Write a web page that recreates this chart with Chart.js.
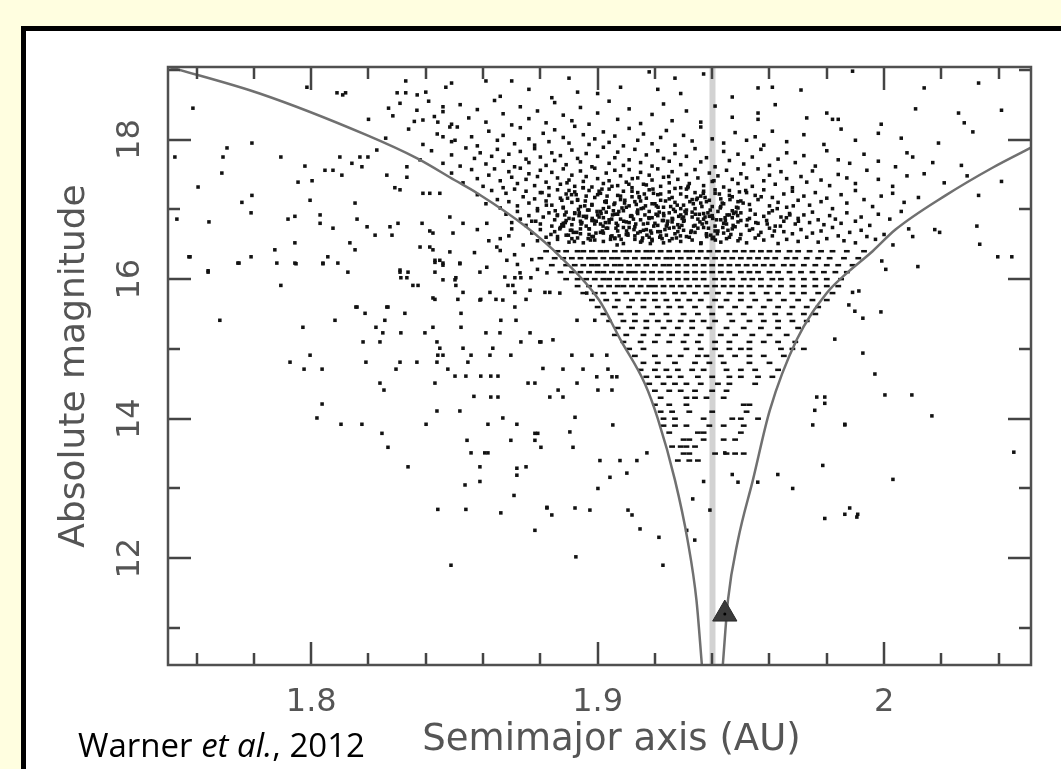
<!DOCTYPE html>
<html>
<head>
<meta charset="utf-8">
<script src="https://cdn.jsdelivr.net/npm/chart.js@4.4.1/dist/chart.umd.min.js"></script>
<style>
html,body{margin:0;padding:0;background:#FFFEE0;width:1061px;height:769px;overflow:hidden;}
#frame{position:absolute;left:21px;top:26px;width:1040px;height:743px;background:#000;}
#box{position:absolute;left:26px;top:31px;width:1035px;height:738px;background:#fff;}
#credit{position:absolute;left:78px;top:728px;font-family:"Open Sans",Lato,sans-serif;font-size:33px;line-height:33px;color:#000;white-space:nowrap;z-index:5;}
</style>
</head>
<body>
<div id="frame"></div>
<div id="box"><canvas id="c"></canvas></div>
<div id="credit">Warner <i>et al.</i>, 2012</div>
<script>
// ---------- axes ----------
const xMin = 1.75, xMax = 2.0513;
const yMin = 10.47, yMax = 19.04;
const xTickValues = [1.8, 1.9, 2.0];
const xTickLabels = ['1.8', '1.9', '2'];
const yTickValues = [12, 14, 16, 18];
const yTickLabels = ['12', '14', '16', '18'];
const xTitle = 'Semimajor axis (AU)';
const yTitle = 'Absolute magnitude';

// ---------- lines ----------
const curveLeftA  = [1.7505, 1.782, 1.8190, 1.837, 1.850, 1.858, 1.875, 1.887, 1.9005, 1.908, 1.9165, 1.921, 1.927, 1.9314, 1.9345, 1.9364];
const curveLeftH  = [19.04, 18.66, 18.07, 17.73, 17.42, 17.23, 16.75, 16.32, 15.70, 15.13, 14.50, 14.00, 13.12, 12.26, 11.40, 10.47];
const curveRightA = [1.9437, 1.9455, 1.9490, 1.9542, 1.9601, 1.9695, 1.9800, 1.9860, 1.9960, 2.0040, 2.0215, 2.0380, 2.0511];
const curveRightH = [10.47, 11.40, 12.26, 13.12, 14.12, 15.13, 15.80, 16.05, 16.40, 16.71, 17.20, 17.60, 17.88];
const refLineA = [1.9401, 1.9401];
const refLineH = [10.47, 19.04];
const markerA = [1.9444];
const markerH = [11.20];

// ---------- asteroids (a, H pairs) ----------
const band1 = [1.7985,18.75,1.809,18.67,1.811,18.64,1.812,18.67,1.833,18.84,1.830,18.67,1.833,18.67,1.837,18.64,1.840,18.68,1.847,18.75,1.849,18.81,1.861,18.84,1.870,18.84,1.876,18.72,1.890,18.88,1.893,18.68,1.900,18.66,1.908,18.75,1.921,18.72,1.927,18.88,1.929,18.66,1.937,18.94,1.947,18.61,1.956,18.74,1.961,18.75,1.971,18.71,1.989,18.98,2.014,18.74,2.033,18.81,1.866,18.62,1.884,18.60,1.918,18.97];
const band2 = [1.820,18.29,1.827,18.45,1.831,18.52,1.836,18.26,1.841,18.55,1.843,18.33,1.846,18.40,1.849,18.22,1.852,18.50,1.855,18.31,1.858,18.43,1.861,18.25,1.864,18.56,1.867,18.37,1.870,18.21,1.873,18.47,1.876,18.30,1.879,18.41,1.882,18.24,1.885,18.53,1.888,18.35,1.891,18.27,1.894,18.46,1.897,18.22,1.900,18.38,1.904,18.55,1.907,18.29,1.911,18.44,1.915,18.23,1.919,18.36,1.923,18.51,1.926,18.27,1.931,18.41,1.936,18.25,1.941,18.48,1.947,18.32,1.956,18.38,1.956,18.29,1.962,18.50,1.973,18.31,1.980,18.38,1.982,18.29,1.984,18.29,1.999,18.22,2.011,18.44,2.028,18.24,2.026,18.38,2.041,18.42,1.8285,18.34,1.8369,18.42,1.8390,18.28,1.8442,18.25,1.8460,18.47,1.8484,18.18];
const band3 = [1.826,18.02,1.834,18.15,1.839,17.93,1.844,18.08,1.849,17.97,1.851,18.18,1.856,18.04,1.858,17.91,1.862,18.12,1.865,17.99,1.867,18.06,1.871,17.94,1.873,18.17,1.876,18.01,1.878,17.92,1.881,18.09,1.883,17.97,1.885,18.14,1.888,18.03,1.890,17.95,1.892,18.19,1.895,18.07,1.897,17.93,1.899,18.01,1.902,18.11,1.904,17.96,1.906,18.05,1.909,17.91,1.911,18.16,1.914,17.99,1.916,18.08,1.919,17.94,1.922,18.03,1.924,18.13,1.927,17.92,1.930,18.06,1.933,17.98,1.936,18.18,1.940,18.01,1.944,17.95,1.948,18.10,1.952,17.99,1.955,18.04,1.958,17.92,1.961,18.12,1.966,17.97,1.972,18.07,1.979,17.93,1.985,18.15,1.990,17.99,1.998,18.09,2.006,18.02,2.008,17.81,2.019,17.95,2.031,18.11,1.8460,18.04,1.8502,17.99];
const band4 = [1.838,17.71,1.842,17.84,1.846,17.66,1.849,17.78,1.852,17.62,1.854,17.88,1.857,17.73,1.859,17.81,1.861,17.65,1.863,17.76,1.865,17.86,1.867,17.69,1.869,17.79,1.871,17.61,1.873,17.83,1.875,17.72,1.876,17.67,1.878,17.87,1.880,17.75,1.882,17.63,1.884,17.81,1.885,17.70,1.887,17.77,1.889,17.64,1.891,17.85,1.893,17.73,1.894,17.68,1.896,17.80,1.898,17.61,1.900,17.76,1.902,17.89,1.904,17.66,1.906,17.74,1.907,17.82,1.909,17.63,1.911,17.71,1.913,17.86,1.915,17.67,1.917,17.78,1.919,17.62,1.921,17.84,1.923,17.73,1.925,17.69,1.927,17.80,1.929,17.64,1.931,17.76,1.934,17.87,1.936,17.68,1.938,17.74,1.941,17.61,1.944,17.83,1.946,17.70,1.949,17.79,1.951,17.65,1.954,17.75,1.957,17.86,1.960,17.63,1.963,17.72,1.966,17.81,1.969,17.67,1.972,17.77,1.976,17.62,1.980,17.84,1.984,17.71,1.988,17.66,1.993,17.79,1.998,17.69,2.004,17.61,2.010,17.75,2.017,17.67,2.027,17.63];
const band5 = [1.849,17.52,1.853,17.38,1.856,17.57,1.858,17.44,1.860,17.33,1.862,17.49,1.864,17.58,1.866,17.41,1.867,17.31,1.869,17.54,1.870,17.46,1.872,17.37,1.873,17.59,1.875,17.43,1.876,17.51,1.878,17.34,1.879,17.47,1.880,17.56,1.882,17.39,1.883,17.31,1.884,17.53,1.886,17.45,1.887,17.36,1.888,17.58,1.890,17.42,1.891,17.49,1.892,17.33,1.894,17.55,1.895,17.40,1.896,17.47,1.898,17.32,1.899,17.59,1.900,17.44,1.902,17.37,1.903,17.52,1.904,17.41,1.906,17.56,1.907,17.34,1.908,17.48,1.910,17.39,1.911,17.57,1.912,17.31,1.914,17.45,1.915,17.53,1.916,17.36,1.918,17.49,1.919,17.42,1.921,17.58,1.922,17.33,1.923,17.46,1.925,17.38,1.926,17.54,1.928,17.43,1.929,17.31,1.931,17.50,1.932,17.37,1.934,17.57,1.935,17.45,1.937,17.34,1.939,17.52,1.940,17.40,1.942,17.48,1.944,17.32,1.945,17.56,1.947,17.43,1.949,17.37,1.950,17.51,1.952,17.45,1.954,17.33,1.956,17.58,1.958,17.41,1.960,17.49,1.962,17.36,1.964,17.54,1.966,17.44,1.968,17.31,1.971,17.47,1.973,17.39,1.975,17.55,1.978,17.42,1.981,17.34,1.984,17.50,1.987,17.45,1.990,17.37,1.994,17.56,1.998,17.43,2.003,17.33,2.008,17.48,2.014,17.51,2.021,17.38];
const band6 = [1.858,17.21,1.861,17.08,1.863,17.27,1.865,17.14,1.866,17.02,1.868,17.23,1.869,17.11,1.871,17.29,1.872,17.05,1.874,17.18,1.875,17.26,1.876,17.09,1.878,17.15,1.879,17.01,1.880,17.24,1.882,17.12,1.883,17.20,1.884,17.06,1.886,17.28,1.887,17.16,1.888,17.03,1.889,17.22,1.891,17.10,1.892,17.25,1.893,17.13,1.894,17.04,1.896,17.19,1.897,17.27,1.898,17.07,1.899,17.17,1.901,17.23,1.902,17.01,1.903,17.12,1.904,17.29,1.906,17.09,1.907,17.20,1.908,17.14,1.909,17.26,1.911,17.05,1.912,17.18,1.913,17.11,1.914,17.24,1.916,17.02,1.917,17.16,1.918,17.28,1.919,17.08,1.921,17.21,1.922,17.13,1.923,17.03,1.925,17.25,1.926,17.17,1.927,17.10,1.929,17.22,1.930,17.06,1.931,17.29,1.933,17.14,1.934,17.01,1.936,17.19,1.937,17.26,1.938,17.11,1.940,17.04,1.941,17.23,1.943,17.15,1.944,17.08,1.946,17.27,1.947,17.18,1.949,17.02,1.950,17.12,1.952,17.24,1.953,17.07,1.955,17.20,1.956,17.14,1.958,17.28,1.960,17.05,1.961,17.17,1.963,17.10,1.965,17.22,1.966,17.03,1.968,17.26,1.970,17.13,1.972,17.19,1.974,17.06,1.976,17.24,1.978,17.11,1.980,17.16,1.982,17.01,1.985,17.21,1.987,17.09,1.990,17.27,1.993,17.14,1.996,17.04,1.999,17.19,2.003,17.23,2.007,17.10,2.012,17.17];
const band7 = [1.868,16.93,1.870,16.81,1.872,16.97,1.873,16.86,1.875,16.77,1.876,16.91,1.877,16.83,1.879,16.98,1.880,16.79,1.881,16.89,1.883,16.95,1.884,16.76,1.885,16.85,1.886,16.92,1.888,16.80,1.889,16.96,1.890,16.87,1.891,16.78,1.892,16.94,1.894,16.83,1.895,16.90,1.896,16.76,1.897,16.99,1.898,16.84,1.900,16.92,1.901,16.79,1.902,16.88,1.903,16.96,1.904,16.81,1.906,16.93,1.907,16.77,1.908,16.86,1.909,16.98,1.910,16.82,1.912,16.90,1.913,16.75,1.914,16.94,1.915,16.85,1.916,16.79,1.918,16.97,1.919,16.88,1.920,16.80,1.921,16.91,1.923,16.84,1.924,16.76,1.925,16.95,1.926,16.87,1.928,16.78,1.929,16.92,1.930,16.83,1.931,16.99,1.933,16.89,1.934,16.77,1.935,16.86,1.937,16.94,1.938,16.81,1.939,16.90,1.941,16.76,1.942,16.97,1.943,16.85,1.945,16.79,1.946,16.92,1.947,16.88,1.949,16.82,1.950,16.95,1.952,16.77,1.953,16.87,1.955,16.93,1.956,16.80,1.958,16.90,1.959,16.84,1.961,16.98,1.962,16.76,1.964,16.89,1.965,16.83,1.967,16.94,1.969,16.79,1.970,16.87,1.972,16.92,1.974,16.81,1.975,16.96,1.977,16.85,1.979,16.78,1.981,16.91,1.983,16.86,1.985,16.80,1.987,16.95,1.990,16.83,1.992,16.89,1.995,16.77,1.998,16.93,2.002,16.86,2.006,16.97];
const band8 = [1.877,16.66,1.879,16.55,1.880,16.71,1.882,16.60,1.883,16.51,1.885,16.68,1.886,16.57,1.887,16.74,1.889,16.63,1.890,16.53,1.891,16.70,1.893,16.59,1.894,16.65,1.895,16.52,1.897,16.72,1.898,16.61,1.899,16.56,1.901,16.67,1.902,16.54,1.903,16.73,1.905,16.62,1.906,16.58,1.907,16.69,1.909,16.51,1.910,16.64,1.911,16.74,1.913,16.57,1.914,16.66,1.915,16.53,1.917,16.71,1.918,16.60,1.919,16.55,1.921,16.68,1.922,16.62,1.923,16.52,1.925,16.73,1.926,16.58,1.927,16.65,1.929,16.54,1.930,16.70,1.931,16.61,1.933,16.56,1.934,16.67,1.936,16.51,1.937,16.74,1.938,16.63,1.940,16.58,1.941,16.69,1.943,16.53,1.944,16.66,1.946,16.60,1.947,16.72,1.949,16.55,1.950,16.64,1.952,16.52,1.953,16.70,1.955,16.59,1.957,16.67,1.958,16.56,1.960,16.73,1.961,16.62,1.963,16.51,1.965,16.68,1.966,16.57,1.968,16.65,1.970,16.54,1.971,16.71,1.973,16.60,1.975,16.66,1.977,16.53,1.978,16.69,1.980,16.58,1.982,16.74,1.984,16.62,1.986,16.55,1.988,16.67,1.990,16.52,1.992,16.70,1.994,16.61,1.997,16.57,2.000,16.64,1.870,16.72,1.866,16.58];
const coreDense = [1.886,16.61,1.888,17.02,1.889,16.84,1.890,17.27,1.891,16.58,1.892,16.95,1.893,17.14,1.894,16.72,1.895,17.31,1.896,16.88,1.897,16.64,1.898,17.06,1.899,16.79,1.900,17.21,1.901,16.97,1.902,16.66,1.903,17.10,1.904,16.85,1.905,17.33,1.906,16.59,1.907,16.93,1.908,17.19,1.909,16.74,1.910,17.03,1.911,16.81,1.912,17.26,1.913,16.62,1.914,16.99,1.915,17.12,1.916,16.70,1.917,17.35,1.918,16.87,1.919,16.57,1.920,17.08,1.921,16.77,1.922,17.22,1.923,16.94,1.924,16.63,1.925,17.15,1.926,16.82,1.927,17.30,1.928,16.68,1.929,17.01,1.930,16.89,1.931,17.18,1.932,16.60,1.933,16.96,1.934,17.24,1.935,16.73,1.936,17.09,1.937,16.86,1.938,16.65,1.939,17.13,1.940,16.91,1.941,17.28,1.942,16.69,1.943,17.04,1.944,16.80,1.945,16.58,1.946,17.20,1.947,16.98,1.948,16.75,1.949,17.11,1.950,16.84,1.8875,16.78,1.8895,17.16,1.8915,16.67,1.8935,16.91,1.8955,17.05,1.8975,16.56,1.8995,16.83,1.9015,17.29,1.9035,16.73,1.9055,16.98,1.9075,16.62,1.9095,17.13,1.9115,16.90,1.9135,17.07,1.9155,16.55,1.9175,16.80,1.9195,17.23,1.9215,16.96,1.9235,16.71,1.9255,17.04,1.9275,16.59,1.9295,16.87,1.9315,17.31,1.9335,16.76,1.9355,16.93,1.9375,17.17,1.9395,16.63,1.9415,16.85,1.9435,17.09,1.9455,16.70,1.9475,16.94,1.9495,17.25,1.8885,16.92,1.8905,16.70,1.8925,17.21,1.8945,16.81,1.8965,16.99,1.8985,16.61,1.9005,16.89,1.9025,17.11,1.9045,16.57,1.9065,16.80,1.9085,17.02,1.9105,16.65,1.9125,16.86,1.9145,17.18,1.9165,16.92,1.9185,16.69,1.9205,17.05,1.9225,16.58,1.9245,16.83,1.9265,17.00,1.9285,16.74,1.9305,16.97,1.9325,16.67,1.9345,17.14,1.9365,16.79,1.9385,16.95,1.9405,16.60,1.9425,17.22,1.9445,16.88,1.9465,16.64,1.9485,17.03];
const coreExtra = [1.9127,16.71,1.8893,17.38,1.9361,16.52,1.9012,16.94,1.9248,17.47,1.8784,16.83,1.9533,16.99,1.9172,16.63,1.8957,17.12,1.9406,17.41,1.9068,16.49,1.9294,16.77,1.8821,17.06,1.9617,16.69,1.9193,17.29,1.8981,16.87,1.9452,16.92,1.9109,17.36,1.8868,16.72,1.9334,17.08,1.9046,16.61,1.9571,17.18,1.9226,16.84,1.8919,16.54,1.9387,16.73,1.9152,17.01,1.8806,17.24,1.9497,16.58,1.9271,16.97,1.9033,17.19,1.9659,16.88,1.8942,16.79,1.9316,17.33,1.9091,16.83,1.9428,17.02,1.9184,16.51,1.8852,16.98,1.9552,16.81,1.9237,17.12,1.8994,16.66,1.9375,16.89,1.9121,17.44,1.9683,17.05,1.8909,17.21,1.9289,16.62,1.9057,17.07,1.9473,16.77,1.9204,16.93,1.8837,16.64,1.9348,17.16,1.9019,16.76,1.9598,16.95,1.9163,17.22,1.8961,16.90,1.9411,16.56,1.9262,16.86,1.9082,16.57,1.9517,17.27,1.9138,16.96,1.8887,16.81,1.9309,16.94,1.9005,17.26,1.9446,16.84,1.9219,16.68,1.8933,17.00,1.9369,17.23,1.9101,16.69,1.9638,16.76,1.9179,16.88,1.8971,16.72,1.9393,16.99,1.9251,16.55,1.9049,16.86,1.9489,16.91,1.9146,17.17,1.8859,16.91,1.9327,16.69,1.9027,16.81,1.9562,16.63,1.9211,17.03,1.8927,16.67,1.9357,16.82,1.9117,16.91,1.9701,16.83,1.9196,16.76,1.8949,17.31,1.9418,16.65,1.9278,17.06,1.9064,16.73,1.9508,17.09,1.9157,16.59,1.8875,17.13,1.9302,16.84,1.8998,16.97,1.9462,17.14,1.9231,16.91,1.8915,16.86,1.9381,16.61,1.9094,17.09,1.9627,17.01,1.9188,16.66,1.8967,16.58,1.9402,16.87,1.9266,16.74,1.9039,17.03,1.9541,16.72,1.9133,16.79,1.8898,16.63,1.9341,16.93,1.9017,16.69,1.9483,16.96,1.9243,16.79,1.8936,16.95,1.9364,17.04,1.9106,16.63,1.9671,16.92,1.9167,17.05,1.8986,16.84,1.9437,16.74,1.9283,16.90,1.9074,16.97,1.9523,16.85,1.9149,16.68,1.8881,16.76,1.9322,17.11,1.9052,16.92,1.9592,16.79,1.9217,16.60];

// quantized magnitude rows (H = row value, a values listed)
const rowH = [16.4,16.3,16.2,16.1,16.0,15.9,15.8,15.7,15.6,15.5,15.4,15.3,15.2,15.1,15.0,14.9,14.8,14.7,14.6,14.5,14.4,14.3,14.2,14.1,14.0,13.9,13.8,13.7,13.6,13.5,13.4];
const rowA = [
 [1.882,1.886,1.889,1.893,1.895,1.898,1.901,1.903,1.906,1.909,1.911,1.914,1.917,1.919,1.922,1.925,1.928,1.931,1.933,1.936,1.939,1.942,1.945,1.948,1.951,1.954,1.957,1.960,1.963,1.967,1.970,1.974,1.978,1.982,1.987,1.993],
 [1.880,1.885,1.888,1.891,1.894,1.897,1.899,1.902,1.905,1.907,1.910,1.913,1.916,1.918,1.921,1.924,1.926,1.929,1.932,1.935,1.938,1.941,1.944,1.947,1.950,1.953,1.956,1.959,1.962,1.966,1.969,1.973,1.977,1.981,1.986,1.991],
 [1.884,1.889,1.892,1.895,1.898,1.900,1.903,1.906,1.908,1.911,1.914,1.917,1.920,1.923,1.925,1.928,1.931,1.934,1.937,1.940,1.943,1.946,1.949,1.952,1.955,1.958,1.961,1.965,1.968,1.972,1.976,1.980,1.984,1.989],
 [1.887,1.891,1.894,1.897,1.900,1.902,1.905,1.908,1.911,1.913,1.916,1.919,1.922,1.925,1.928,1.931,1.934,1.937,1.940,1.943,1.946,1.950,1.953,1.956,1.960,1.963,1.967,1.971,1.975,1.979,1.983,1.987],
 [1.889,1.893,1.896,1.899,1.902,1.904,1.907,1.910,1.913,1.916,1.919,1.922,1.925,1.928,1.931,1.934,1.937,1.941,1.944,1.947,1.951,1.954,1.957,1.961,1.964,1.968,1.972,1.976,1.980,1.985],
 [1.893,1.897,1.901,1.904,1.907,1.909,1.912,1.915,1.918,1.920,1.923,1.926,1.929,1.932,1.935,1.938,1.941,1.944,1.947,1.950,1.953,1.957,1.960,1.964,1.968,1.972,1.976,1.980,1.984],
 [1.895,1.899,1.902,1.906,1.910,1.914,1.917,1.920,1.923,1.927,1.930,1.934,1.938,1.942,1.946,1.950,1.954,1.959,1.963,1.968,1.972,1.977,1.982],
 [1.898,1.903,1.907,1.912,1.916,1.920,1.924,1.928,1.932,1.936,1.941,1.945,1.950,1.955,1.960,1.965,1.970,1.975,1.980],
 [1.900,1.906,1.911,1.916,1.921,1.925,1.929,1.934,1.939,1.943,1.948,1.953,1.958,1.963,1.968,1.973,1.977],
 [1.902,1.908,1.913,1.919,1.924,1.930,1.935,1.940,1.946,1.951,1.957,1.962,1.967,1.972,1.976],
 [1.904,1.909,1.913,1.917,1.921,1.925,1.929,1.933,1.937,1.941,1.947,1.953,1.958,1.963,1.968,1.973],
 [1.907,1.912,1.917,1.923,1.928,1.933,1.939,1.945,1.951,1.957,1.963,1.970],
 [1.906,1.910,1.916,1.921,1.926,1.931,1.936,1.943,1.948,1.954,1.960,1.966],
 [1.909,1.915,1.920,1.925,1.930,1.935,1.941,1.946,1.953,1.958,1.963,1.969],
 [1.911,1.916,1.931,1.936,1.941,1.946,1.950,1.953,1.964,1.968,1.972],
 [1.913,1.920,1.925,1.929,1.935,1.938,1.943,1.948,1.953,1.958,1.965],
 [1.916,1.921,1.927,1.934,1.939,1.944,1.953,1.960],
 [1.915,1.920,1.924,1.928,1.933,1.937,1.945,1.950,1.955,1.963],
 [1.917,1.921,1.925,1.929,1.935,1.940,1.946,1.950,1.956,1.961],
 [1.918,1.923,1.927,1.931,1.936,1.942,1.946,1.955],
 [1.920,1.925,1.929,1.934,1.940,1.945],
 [1.922,1.931,1.934,1.938,1.944],
 [1.920,1.925,1.931,1.951,1.953],
 [1.922,1.926,1.932,1.940,1.952],
 [1.923,1.927,1.937,1.947,1.950,1.956],
 [1.923,1.927,1.931,1.939,1.944,1.951],
 [1.925,1.935,1.937,1.950],
 [1.930,1.932,1.937,1.944,1.948],
 [1.926,1.929,1.931,1.934],
 [1.930,1.932,1.941,1.945,1.948,1.951],
 [1.928,1.932,1.935]
];

const insideLow = [1.9332,12.85,1.9392,12.69,1.9311,12.40,1.9339,12.26,1.9444,13.51,1.9490,13.09,1.947,13.20,1.937,13.10];

const outsideLeft = [1.7587,18.45,1.7706,17.88,1.7793,17.95,1.7692,17.75,1.7524,17.75,1.7894,17.75,1.7605,17.32,1.7688,17.52,1.7793,17.20,1.7758,17.10,1.7790,16.95,1.7643,16.82,1.7531,16.86,1.7573,16.32,1.7640,16.12,1.7748,16.23,1.7790,16.32,1.7873,16.42,1.7880,16.23,1.7943,16.52,1.7943,16.23,1.7894,15.91,1.7978,17.62,1.8048,17.56,1.7954,17.39,1.8003,17.41,1.7919,16.86,1.7943,16.90,1.7996,17.13,1.8031,16.92,1.8031,16.80,1.8076,16.73,1.8041,16.23,1.8093,16.23,1.8135,16.52,1.8153,16.42,1.8170,17.75,1.8100,17.75,1.8142,17.66,1.8177,17.61,1.8198,17.75,1.8229,17.85,1.8076,17.56,1.8107,17.49,1.8153,17.09,1.8160,16.86,1.8195,16.75,1.8223,16.63,1.8275,16.75,1.8282,16.63,1.8303,16.80,1.8334,17.61,1.8334,17.46,1.8264,17.49,1.8292,17.31,1.8310,17.28,1.8390,17.23,1.8414,17.23,1.8387,16.80,1.8414,16.69,1.8425,16.42,1.8380,16.46,1.8310,16.13,1.8334,16.02,1.8355,15.91,1.8373,15.91,1.8432,16.27,1.8460,16.23,1.8484,16.39,1.8502,15.99,1.8425,15.73,1.8160,15.60,1.8264,15.60,
 1.7577,16.32,1.8058,16.32,1.7744,16.23,1.7947,16.22,1.8041,16.22,1.7640,16.10,1.8128,16.10,1.7681,15.41,1.8083,15.41,1.7971,15.31,1.8156,15.60,1.8188,15.51,1.8268,15.60,1.8257,15.41,1.8226,15.31,1.8327,15.51,1.8310,16.10,1.8338,16.10,1.8313,16.02,1.8432,16.24,1.8432,16.10,1.8460,16.20,1.8519,16.22,1.8460,15.99,1.8505,16.02,1.8505,15.91,1.8530,15.81,1.8432,15.71,1.8512,15.71,1.8592,15.71,1.8645,15.71,1.8750,15.71,1.8589,16.10,1.8624,15.81,1.8676,16.03,1.8711,16.02,1.8732,16.02,1.8767,16.02,1.8687,15.91,1.8704,15.91,1.8711,15.81,1.8816,15.81,1.8711,15.60,1.8662,15.41,1.8715,15.41,1.8523,15.51,1.8523,15.31,1.8425,15.31,1.8397,15.23,1.8313,15.23,1.8250,15.23,1.8181,15.10,1.8240,15.10,1.8439,15.10,1.8610,15.23,1.8659,15.23,1.8764,15.23,1.8732,15.10,1.8802,15.10,1.8449,15.01,1.8634,15.01,1.8530,15.01,1.8442,14.91,1.8460,14.91,1.8558,14.91,1.8624,14.91,1.8697,14.91,1.7996,14.91,1.7926,14.81,1.8191,14.81,1.8310,14.81,1.8369,14.81,1.8439,14.81,1.8547,14.81,1.7975,14.71,1.8038,14.71,1.8296,14.71,1.8477,14.71,1.8502,14.61,1.8540,14.61,1.8592,14.61,1.8627,14.61,1.8652,14.61,1.8240,14.51,1.8254,14.41,1.8432,14.51,1.8757,14.51,1.8781,14.51,1.8809,14.72,1.8568,14.32,1.8627,14.31,1.8652,14.31,1.8038,14.21,1.8439,14.11,1.8519,14.11,1.8020,14.01,1.8104,13.92,1.8177,13.92,1.8401,13.92,1.8617,13.92,1.8669,14.01,1.8718,13.92,1.8247,13.79,1.8781,13.79,1.8791,13.79,1.8268,13.59,1.8544,13.69,1.8697,13.69,1.8781,13.69,1.8558,13.51,1.8606,13.51,1.8617,13.51,1.8802,13.59,1.8338,13.31,1.8589,13.31,1.8718,13.29,1.8718,13.19,1.8750,13.31,1.8537,13.05,1.8589,13.10,1.8708,12.90,1.8442,12.70,1.8540,12.70,1.8662,12.65,1.8823,12.73,1.8781,12.40,1.8488,11.90,
 1.8833,15.81,1.8962,15.80,1.8928,15.41,1.8990,15.41,1.8844,15.13,1.8798,15.10,1.8910,14.91,1.8980,14.91,1.9032,14.91,1.8879,14.71,1.8949,14.71,1.9036,14.71,1.8997,14.60,1.9050,14.60,1.9067,14.60,1.8928,14.51,1.9001,14.41,1.8862,14.41,1.8833,14.31,1.8879,14.31,1.9050,14.41,1.8921,14.02,1.9053,13.91,1.8903,13.81,1.8914,13.59,1.9008,13.40,1.9043,13.16,1.9102,13.22,1.9001,13.00,1.8823,12.72,1.8840,12.62,1.8921,12.72,1.8973,12.69,1.9106,12.69,1.9120,12.62,1.9148,12.42,1.9214,12.30,1.8924,12.02,1.9228,11.90,1.9078,13.40,1.9137,13.40,1.9172,13.51,
 1.8449,17.23,1.8530,16.80,1.8495,16.66,1.8613,16.80,1.8648,16.46,1.8683,16.27,1.8729,16.09,1.8823,16.09,1.8764,15.84,1.8868,15.80,1.8613,16.17,1.8519,16.23,1.8589,15.70,1.8669,15.70,1.8449,16.27,1.8414,16.46,1.8484,16.89,1.8425,16.66,1.862,16.55,1.866,16.41,1.871,16.35,1.874,16.49,1.877,16.28,1.869,16.62,1.858,16.71,1.872,16.21,1.879,16.14,1.857,16.38];

const outsideRight = [2.0290,17.48,2.0324,16.76,2.0334,16.50,2.0397,16.32,2.0446,16.32,2.0177,16.71,2.0194,16.67,2.0086,16.72,2.0100,16.61,2.0031,16.49,2.0118,16.18,1.9992,16.26,2.0006,16.14,1.9912,15.83,1.9989,15.53,1.9926,15.44,1.9898,15.54,1.9877,15.63,1.9828,15.14,1.9926,14.94,1.9968,14.64,2.0003,14.34,2.0097,14.34,2.0167,14.04,1.9793,14.31,1.9793,14.22,1.9863,13.92,1.9786,13.33,2.0031,13.13,2.0453,13.52,1.9793,12.57,1.9863,12.63,1.9880,12.72,1.9908,12.63,1.9751,13.91,1.9863,13.91,1.9681,13.00,1.9629,13.20,1.9905,12.59,1.9765,14.31,1.9758,14.12,1.9559,13.09,1.9890,15.81,2.0330,17.20,2.0410,17.40];

// ---------- build data ----------
function pairs(flat){const out=[];for(let i=0;i<flat.length;i+=2)out.push({x:flat[i],y:flat[i+1]});return out;}
function zipXY(xs,ys){return xs.map((v,i)=>({x:v,y:ys[i]}));}
const asteroidPts = [].concat(
  pairs(band1),pairs(band2),pairs(band3),pairs(band4),pairs(band5),pairs(band6),pairs(band7),pairs(band8),
  pairs(coreDense),pairs(coreExtra),pairs(insideLow),pairs(outsideLeft),pairs(outsideRight)
);
const rowPts = [];
rowH.forEach((h,i)=>rowA[i].forEach(a=>rowPts.push({x:a,y:h})));

function isMajorX(v){return xTickValues.some(t=>Math.abs(t-v)<1e-6);}
function labelX(v){const i=xTickValues.findIndex(t=>Math.abs(t-v)<1e-6);return i>=0?xTickLabels[i]:'';}
function isMajorY(v){return yTickValues.some(t=>Math.abs(t-v)<1e-6) || Math.abs(v-10)<1e-6;}

const axisDecor = {
  id:'axisDecor',
  afterDatasetsDraw(chart){
    const {ctx, chartArea:ca, scales:{x,y}} = chart;
    ctx.save();
    ctx.strokeStyle='#444'; ctx.lineWidth=2.5; ctx.lineCap='butt';
    ctx.beginPath();
    x.ticks.forEach(t=>{
      const px=Math.round(x.getPixelForValue(t.value));
      const len=isMajorX(t.value)?23:12;
      ctx.moveTo(px,ca.bottom); ctx.lineTo(px,ca.bottom-len);
      ctx.moveTo(px,ca.top); ctx.lineTo(px,ca.top+len);
    });
    y.ticks.forEach(t=>{
      const py=Math.round(y.getPixelForValue(t.value));
      const len=isMajorY(t.value)?23:12;
      ctx.moveTo(ca.left,py); ctx.lineTo(ca.left+len,py);
      ctx.moveTo(ca.right,py); ctx.lineTo(ca.right-len,py);
    });
    ctx.stroke();
    ctx.strokeStyle='#505050'; ctx.lineWidth=2.5;
    ctx.strokeRect(ca.left,ca.top,ca.right-ca.left,ca.bottom-ca.top);
    ctx.fillStyle='#555';
    ctx.textAlign='center'; ctx.textBaseline='middle';
    ctx.font='32px "DejaVu Sans"';
    yTickValues.forEach((v,i)=>{
      const py=y.getPixelForValue(v);
      ctx.save(); ctx.translate(ca.left-37,py); ctx.rotate(-Math.PI/2);
      ctx.fillText(yTickLabels[i],0,0); ctx.restore();
    });
    ctx.font='37px "DejaVu Sans"';
    ctx.fillText(xTitle,(ca.left+ca.right)/2+12,ca.bottom+75);
    ctx.restore();
  }
};

Chart.defaults.font.family='"DejaVu Sans"';
new Chart(document.getElementById('c'),{
  type:'scatter',
  data:{datasets:[
    {label:'ref', data:zipXY(refLineA,refLineH), showLine:true, borderColor:'#d2d2d2', borderWidth:6, pointRadius:0, order:10},
    {label:'asteroids', data:asteroidPts, pointStyle:'rect', pointRadius:2.5, pointBackgroundColor:'#111', pointBorderWidth:0, order:5},
    {label:'asteroidRows', data:rowPts, pointStyle:'line', pointRadius:2.9, pointBorderColor:'#111', pointBorderWidth:2.5, order:5},
    {label:'left', data:zipXY(curveLeftA,curveLeftH), showLine:true, borderColor:'#707070', borderWidth:2.5, pointRadius:0, cubicInterpolationMode:'monotone', order:2},
    {label:'right', data:zipXY(curveRightA,curveRightH), showLine:true, borderColor:'#707070', borderWidth:2.5, pointRadius:0, cubicInterpolationMode:'monotone', order:2},
    {label:'marker', data:zipXY(markerA,markerH), pointStyle:'triangle', pointRadius:14, pointBackgroundColor:'#3a3a3a', pointBorderColor:'#2c2c2c', pointBorderWidth:1, order:1},
    {label:'markerDot', data:zipXY(markerA,markerH), pointRadius:1.5, pointBackgroundColor:'#000', pointBorderWidth:0, order:0}
  ]},
  options:{
    responsive:true, maintainAspectRatio:false, devicePixelRatio:1, animation:false,
    layout:{padding:{top:36,right:30,left:0,bottom:0}},
    plugins:{legend:{display:false},tooltip:{enabled:false}},
    scales:{
      x:{type:'linear',min:xMin,max:xMax,
        grid:{display:false,drawTicks:false},border:{display:false},
        ticks:{stepSize:0.02,includeBounds:false,autoSkip:false,maxRotation:0,minRotation:0,padding:18,
          color:'#555',font:{size:32,family:'"DejaVu Sans"'},callback:(v)=>labelX(v)},
        title:{display:false,text:xTitle},
        afterFit:(s)=>{s.height=104;}
      },
      y:{type:'linear',min:yMin,max:yMax,
        grid:{display:false,drawTicks:false},border:{display:false},
        ticks:{stepSize:1,includeBounds:false,display:false},
        title:{display:true,text:yTitle,color:'#555',font:{size:36,family:'"DejaVu Sans"'},padding:{top:27,bottom:0}},
        afterFit:(s)=>{s.width=142;}
      }
    }
  },
  plugins:[axisDecor]
});
</script>
</body>
</html>
